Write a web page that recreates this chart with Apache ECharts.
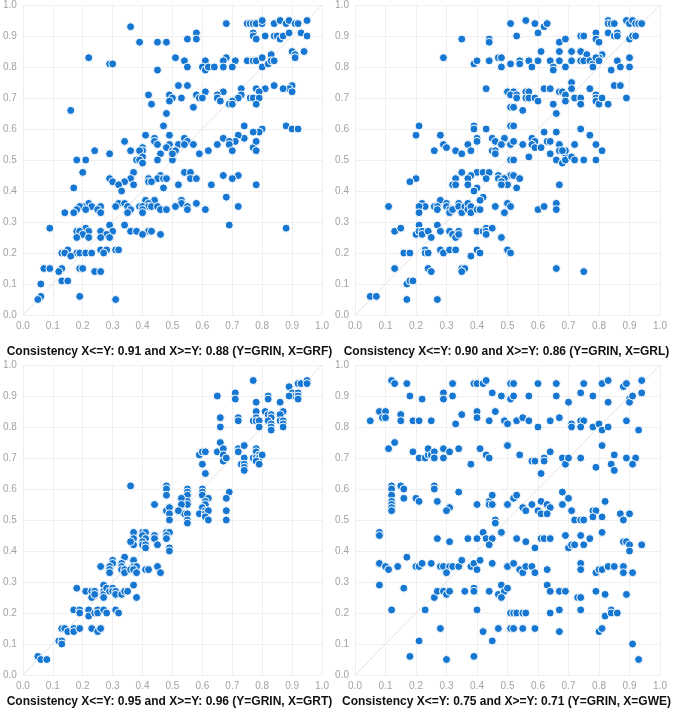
<!DOCTYPE html>
<html>
<head>
<meta charset="utf-8">
<script src="https://cdn.jsdelivr.net/npm/echarts@6/dist/echarts.min.js"></script>
<style>
  html, body { margin: 0; padding: 0; background: #fff; }
  #chart { width: 674px; height: 708px; }
</style>
</head>
<body>
<div id="chart"></div>
<script>
// x = condition set membership, y = GRIN membership
const grfPoints = [
  [0.36,0.93],[0.39,0.88],[0.45,0.88],[0.48,0.88],[0.22,0.83],[0.51,0.83],[0.29,0.81],[0.30,0.81],[0.45,0.79],[0.52,0.74],
  [0.42,0.71],[0.49,0.71],[0.50,0.70],[0.53,0.70],[0.49,0.69],[0.43,0.68],[0.16,0.66],[0.48,0.65],[0.47,0.61],[0.41,0.58],
  [0.49,0.58],[0.44,0.57],[0.44,0.56],[0.34,0.56],[0.45,0.55],[0.49,0.55],[0.52,0.55],[0.48,0.54],[0.40,0.54],[0.40,0.53],
  [0.36,0.53],[0.39,0.53],[0.24,0.53],[0.50,0.53],[0.51,0.53],[0.46,0.52],[0.29,0.52],[0.40,0.51],[0.50,0.51],[0.18,0.50],
  [0.21,0.50],[0.38,0.50],[0.39,0.50],[0.45,0.50],[0.50,0.50],[0.40,0.49],[0.20,0.46],[0.37,0.46],[0.46,0.45],[0.29,0.44],
  [0.30,0.43],[0.42,0.44],[0.42,0.43],[0.45,0.44],[0.47,0.44],[0.48,0.44],[0.36,0.44],[0.34,0.43],[0.43,0.43],[0.32,0.42],
  [0.37,0.42],[0.52,0.42],[0.47,0.41],[0.17,0.41],[0.33,0.40],[0.41,0.37],[0.44,0.37],[0.42,0.36],[0.53,0.37],[0.53,0.36],
  [0.22,0.36],[0.20,0.35],[0.32,0.36],[0.34,0.36],[0.51,0.35],[0.31,0.35],[0.35,0.35],[0.39,0.35],[0.40,0.35],[0.42,0.35],
  [0.43,0.35],[0.45,0.35],[0.26,0.35],[0.23,0.35],[0.19,0.35],[0.18,0.34],[0.17,0.33],[0.25,0.34],[0.26,0.33],[0.36,0.34],
  [0.35,0.33],[0.40,0.34],[0.40,0.33],[0.46,0.34],[0.48,0.34],[0.21,0.34],[0.14,0.33],[0.29,0.29],[0.34,0.29],[0.09,0.28],
  [0.21,0.28],[0.22,0.27],[0.18,0.27],[0.19,0.27],[0.26,0.27],[0.30,0.27],[0.36,0.27],[0.38,0.27],[0.42,0.27],[0.43,0.27],
  [0.28,0.26],[0.40,0.26],[0.46,0.26],[0.20,0.26],[0.18,0.25],[0.22,0.25],[0.26,0.25],[0.29,0.25],[0.26,0.21],[0.28,0.21],
  [0.31,0.21],[0.32,0.21],[0.15,0.21],[0.13,0.20],[0.14,0.20],[0.18,0.20],[0.19,0.20],[0.21,0.20],[0.23,0.20],[0.27,0.20],
  [0.16,0.19],[0.07,0.15],[0.09,0.15],[0.13,0.15],[0.19,0.15],[0.20,0.15],[0.12,0.14],[0.24,0.14],[0.26,0.14],[0.13,0.11],
  [0.15,0.11],[0.06,0.10],[0.06,0.06],[0.19,0.06],[0.05,0.05],[0.31,0.05],
  [0.68,0.94],[0.75,0.94],[0.76,0.94],[0.77,0.94],[0.78,0.94],[0.80,0.94],[0.80,0.95],[0.84,0.94],[0.86,0.95],[0.88,0.94],
  [0.89,0.95],[0.91,0.94],[0.92,0.94],[0.95,0.95],[0.58,0.91],[0.58,0.89],[0.55,0.89],[0.77,0.91],[0.77,0.90],[0.78,0.89],
  [0.81,0.90],[0.84,0.90],[0.85,0.90],[0.86,0.89],[0.87,0.90],[0.89,0.91],[0.93,0.91],[0.95,0.90],[0.90,0.85],[0.91,0.84],
  [0.94,0.85],[0.91,0.83],[0.83,0.84],[0.54,0.82],[0.55,0.80],[0.68,0.83],[0.67,0.82],[0.67,0.80],[0.71,0.82],[0.70,0.80],
  [0.61,0.82],[0.60,0.80],[0.61,0.79],[0.62,0.80],[0.64,0.80],[0.75,0.82],[0.77,0.82],[0.78,0.82],[0.80,0.83],[0.80,0.80],
  [0.82,0.81],[0.83,0.82],[0.84,0.82],[0.90,0.74],[0.89,0.73],[0.90,0.72],[0.84,0.74],[0.87,0.73],[0.81,0.73],[0.78,0.73],
  [0.79,0.72],[0.78,0.70],[0.76,0.70],[0.77,0.70],[0.79,0.70],[0.78,0.68],[0.73,0.73],[0.73,0.71],[0.72,0.70],[0.67,0.72],
  [0.65,0.71],[0.65,0.70],[0.66,0.69],[0.61,0.72],[0.58,0.71],[0.59,0.70],[0.60,0.70],[0.55,0.74],[0.57,0.67],[0.70,0.69],
  [0.69,0.68],[0.70,0.68],[0.74,0.61],[0.88,0.61],[0.90,0.60],[0.92,0.60],[0.80,0.60],[0.79,0.59],[0.77,0.59],[0.74,0.57],
  [0.72,0.58],[0.71,0.56],[0.67,0.57],[0.69,0.56],[0.69,0.55],[0.65,0.55],[0.77,0.54],[0.78,0.56],[0.78,0.53],[0.70,0.53],
  [0.62,0.53],[0.59,0.52],[0.54,0.57],[0.55,0.56],[0.54,0.55],[0.57,0.55],[0.51,0.53],[0.50,0.52],[0.54,0.46],[0.56,0.46],
  [0.56,0.44],[0.58,0.44],[0.67,0.45],[0.72,0.45],[0.70,0.44],[0.63,0.42],[0.78,0.42],[0.68,0.38],[0.55,0.35],[0.55,0.34],
  [0.58,0.36],[0.61,0.34],[0.72,0.35],[0.69,0.29],[0.88,0.28]
];

const grlPoints = [
  [0.35,0.89],[0.44,0.89],[0.44,0.88],[0.29,0.83],[0.47,0.83],[0.39,0.81],[0.40,0.82],[0.44,0.82],[0.48,0.80],[0.51,0.81],
  [0.51,0.94],[0.43,0.73],[0.50,0.72],[0.51,0.71],[0.51,0.67],[0.21,0.61],[0.20,0.58],[0.39,0.61],[0.39,0.60],[0.43,0.60],
  [0.51,0.61],[0.28,0.58],[0.29,0.55],[0.30,0.54],[0.37,0.55],[0.40,0.57],[0.40,0.56],[0.45,0.57],[0.46,0.56],[0.48,0.55],
  [0.49,0.57],[0.51,0.55],[0.26,0.53],[0.33,0.53],[0.38,0.53],[0.45,0.53],[0.46,0.53],[0.46,0.52],[0.35,0.52],[0.51,0.50],
  [0.35,0.46],[0.40,0.46],[0.42,0.46],[0.44,0.46],[0.38,0.45],[0.47,0.45],[0.51,0.45],[0.33,0.44],[0.37,0.44],[0.43,0.44],
  [0.47,0.44],[0.49,0.44],[0.48,0.43],[0.32,0.42],[0.33,0.42],[0.37,0.42],[0.48,0.42],[0.50,0.42],[0.20,0.44],[0.18,0.43],
  [0.40,0.41],[0.39,0.40],[0.42,0.38],[0.41,0.37],[0.28,0.37],[0.22,0.36],[0.23,0.35],[0.21,0.35],[0.21,0.33],[0.11,0.35],
  [0.26,0.35],[0.27,0.35],[0.27,0.34],[0.30,0.36],[0.30,0.35],[0.31,0.34],[0.31,0.33],[0.32,0.34],[0.34,0.36],[0.34,0.35],
  [0.35,0.33],[0.36,0.35],[0.37,0.36],[0.37,0.34],[0.38,0.35],[0.38,0.33],[0.40,0.34],[0.41,0.34],[0.46,0.35],[0.49,0.33],
  [0.50,0.36],[0.51,0.35],[0.13,0.27],[0.15,0.28],[0.20,0.26],[0.21,0.29],[0.21,0.27],[0.22,0.27],[0.22,0.26],[0.24,0.27],
  [0.25,0.25],[0.27,0.29],[0.28,0.27],[0.31,0.27],[0.32,0.26],[0.33,0.25],[0.34,0.27],[0.34,0.26],[0.40,0.27],[0.42,0.27],
  [0.43,0.28],[0.43,0.27],[0.43,0.26],[0.45,0.28],[0.48,0.25],[0.16,0.20],[0.18,0.20],[0.23,0.21],[0.23,0.20],[0.24,0.20],
  [0.28,0.21],[0.29,0.20],[0.31,0.21],[0.33,0.21],[0.38,0.19],[0.40,0.21],[0.41,0.20],[0.50,0.21],[0.51,0.20],[0.13,0.15],
  [0.24,0.15],[0.25,0.14],[0.35,0.15],[0.36,0.15],[0.35,0.14],[0.17,0.10],[0.18,0.11],[0.19,0.11],[0.05,0.06],[0.07,0.06],
  [0.17,0.05],[0.27,0.05],
  [0.56,0.95],[0.59,0.94],[0.60,0.91],[0.62,0.93],[0.63,0.94],[0.53,0.90],[0.67,0.88],[0.69,0.89],[0.74,0.90],[0.75,0.90],
  [0.79,0.91],[0.79,0.89],[0.80,0.88],[0.83,0.91],[0.85,0.90],[0.86,0.91],[0.86,0.90],[0.83,0.95],[0.83,0.94],[0.84,0.94],
  [0.85,0.94],[0.89,0.95],[0.90,0.94],[0.91,0.95],[0.92,0.94],[0.93,0.94],[0.94,0.94],[0.90,0.89],[0.91,0.90],[0.92,0.90],
  [0.61,0.85],[0.67,0.85],[0.71,0.85],[0.74,0.85],[0.76,0.84],[0.81,0.84],[0.80,0.83],[0.48,0.83],[0.48,0.80],[0.54,0.82],
  [0.54,0.81],[0.57,0.82],[0.58,0.80],[0.60,0.82],[0.64,0.82],[0.65,0.80],[0.65,0.79],[0.67,0.82],[0.71,0.82],[0.69,0.80],
  [0.74,0.82],[0.75,0.82],[0.77,0.82],[0.78,0.81],[0.78,0.80],[0.79,0.83],[0.80,0.82],[0.86,0.82],[0.84,0.79],[0.87,0.80],
  [0.90,0.83],[0.90,0.80],[0.71,0.75],[0.62,0.73],[0.64,0.73],[0.71,0.73],[0.77,0.73],[0.85,0.74],[0.87,0.74],[0.50,0.72],
  [0.52,0.72],[0.51,0.71],[0.53,0.71],[0.53,0.70],[0.56,0.72],[0.57,0.72],[0.56,0.70],[0.57,0.70],[0.59,0.70],[0.60,0.69],
  [0.67,0.72],[0.68,0.72],[0.69,0.71],[0.69,0.69],[0.72,0.70],[0.74,0.70],[0.74,0.68],[0.65,0.68],[0.79,0.71],[0.79,0.70],
  [0.79,0.69],[0.80,0.68],[0.81,0.70],[0.83,0.68],[0.89,0.70],[0.52,0.67],[0.55,0.66],[0.66,0.65],[0.52,0.61],[0.62,0.59],
  [0.66,0.59],[0.74,0.60],[0.77,0.58],[0.49,0.57],[0.58,0.57],[0.59,0.56],[0.58,0.55],[0.59,0.54],[0.63,0.56],[0.64,0.56],
  [0.61,0.54],[0.51,0.55],[0.52,0.56],[0.55,0.55],[0.48,0.55],[0.67,0.55],[0.67,0.53],[0.69,0.52],[0.69,0.53],[0.68,0.53],
  [0.64,0.52],[0.72,0.55],[0.79,0.55],[0.81,0.53],[0.57,0.51],[0.52,0.50],[0.66,0.50],[0.68,0.49],[0.69,0.50],[0.71,0.51],
  [0.72,0.50],[0.75,0.50],[0.79,0.50],[0.49,0.44],[0.48,0.43],[0.50,0.42],[0.48,0.42],[0.52,0.45],[0.54,0.44],[0.53,0.41],
  [0.67,0.42],[0.50,0.36],[0.51,0.35],[0.49,0.33],[0.60,0.34],[0.62,0.35],[0.66,0.36],[0.66,0.34],[0.48,0.25],[0.50,0.21],
  [0.51,0.20],[0.66,0.15],[0.75,0.14]
];

const grtPoints = [
  [0.36,0.61],[0.48,0.61],[0.48,0.60],[0.48,0.58],[0.44,0.55],[0.52,0.53],[0.48,0.53],[0.49,0.54],[0.49,0.52],[0.49,0.50],
  [0.53,0.57],[0.53,0.55],[0.48,0.46],[0.49,0.46],[0.48,0.45],[0.48,0.44],[0.44,0.45],[0.44,0.44],[0.45,0.42],[0.49,0.41],
  [0.49,0.40],[0.37,0.46],[0.37,0.44],[0.37,0.42],[0.36,0.43],[0.40,0.46],[0.41,0.46],[0.40,0.45],[0.41,0.44],[0.40,0.43],
  [0.40,0.42],[0.41,0.42],[0.41,0.41],[0.34,0.38],[0.30,0.37],[0.30,0.36],[0.29,0.35],[0.29,0.34],[0.29,0.33],[0.26,0.35],
  [0.33,0.36],[0.33,0.35],[0.33,0.34],[0.34,0.34],[0.34,0.33],[0.37,0.37],[0.37,0.35],[0.38,0.35],[0.36,0.34],[0.37,0.34],
  [0.38,0.33],[0.41,0.34],[0.42,0.34],[0.45,0.35],[0.46,0.33],[0.18,0.28],[0.21,0.27],[0.23,0.27],[0.24,0.27],[0.23,0.25],
  [0.24,0.26],[0.27,0.29],[0.27,0.27],[0.27,0.26],[0.27,0.25],[0.28,0.28],[0.29,0.27],[0.30,0.28],[0.30,0.27],[0.31,0.27],
  [0.31,0.26],[0.33,0.26],[0.34,0.27],[0.35,0.27],[0.37,0.29],[0.38,0.25],[0.17,0.21],[0.19,0.21],[0.19,0.20],[0.22,0.21],
  [0.22,0.19],[0.24,0.20],[0.25,0.21],[0.25,0.20],[0.27,0.21],[0.28,0.20],[0.31,0.21],[0.32,0.20],[0.13,0.15],[0.14,0.15],
  [0.15,0.14],[0.17,0.15],[0.17,0.14],[0.19,0.15],[0.23,0.15],[0.25,0.14],[0.26,0.15],[0.12,0.11],[0.13,0.11],[0.13,0.10],
  [0.05,0.06],[0.06,0.05],[0.08,0.05],
  [0.77,0.95],[0.89,0.93],[0.92,0.94],[0.93,0.94],[0.95,0.95],[0.95,0.94],[0.90,0.91],[0.90,0.90],[0.92,0.91],[0.92,0.90],
  [0.92,0.89],[0.89,0.90],[0.65,0.90],[0.71,0.91],[0.71,0.89],[0.78,0.88],[0.82,0.90],[0.82,0.89],[0.86,0.88],[0.78,0.85],
  [0.81,0.85],[0.82,0.84],[0.83,0.84],[0.83,0.83],[0.87,0.85],[0.86,0.84],[0.86,0.82],[0.87,0.82],[0.87,0.81],[0.87,0.80],
  [0.77,0.82],[0.78,0.83],[0.78,0.82],[0.79,0.82],[0.79,0.80],[0.82,0.82],[0.83,0.81],[0.83,0.80],[0.83,0.79],[0.72,0.83],
  [0.72,0.82],[0.66,0.83],[0.66,0.80],[0.66,0.75],[0.65,0.72],[0.67,0.73],[0.67,0.71],[0.67,0.69],[0.68,0.70],[0.59,0.71],
  [0.60,0.72],[0.61,0.72],[0.60,0.68],[0.61,0.65],[0.72,0.73],[0.72,0.72],[0.74,0.74],[0.74,0.70],[0.73,0.68],[0.74,0.68],
  [0.74,0.67],[0.74,0.66],[0.78,0.73],[0.78,0.72],[0.79,0.71],[0.77,0.70],[0.78,0.70],[0.79,0.70],[0.80,0.71],[0.78,0.69],
  [0.79,0.68],[0.55,0.60],[0.55,0.59],[0.55,0.58],[0.55,0.56],[0.55,0.55],[0.54,0.52],[0.55,0.52],[0.55,0.50],[0.55,0.49],
  [0.53,0.57],[0.53,0.55],[0.52,0.53],[0.60,0.60],[0.60,0.59],[0.60,0.58],[0.62,0.57],[0.61,0.56],[0.61,0.55],[0.60,0.54],
  [0.61,0.53],[0.59,0.52],[0.61,0.52],[0.62,0.53],[0.61,0.51],[0.62,0.50],[0.69,0.59],[0.68,0.57],[0.68,0.53],[0.68,0.50]
];

const gwePoints = [
  [0.12,0.95],[0.13,0.94],[0.17,0.94],[0.18,0.90],[0.22,0.89],[0.29,0.91],[0.29,0.89],[0.32,0.94],[0.32,0.90],[0.39,0.94],
  [0.40,0.94],[0.42,0.94],[0.43,0.95],[0.45,0.91],[0.48,0.90],[0.51,0.89],[0.51,0.94],[0.08,0.85],[0.10,0.85],[0.09,0.83],
  [0.10,0.83],[0.05,0.82],[0.15,0.84],[0.15,0.82],[0.19,0.82],[0.21,0.82],[0.25,0.82],[0.33,0.81],[0.35,0.84],[0.40,0.85],
  [0.40,0.83],[0.44,0.82],[0.46,0.85],[0.49,0.82],[0.50,0.81],[0.13,0.75],[0.11,0.73],[0.19,0.72],[0.21,0.70],[0.23,0.70],
  [0.24,0.71],[0.24,0.73],[0.25,0.71],[0.26,0.72],[0.26,0.70],[0.29,0.73],[0.29,0.70],[0.31,0.72],[0.34,0.73],[0.38,0.68],
  [0.41,0.73],[0.43,0.71],[0.44,0.70],[0.50,0.74],[0.12,0.61],[0.12,0.60],[0.12,0.58],[0.12,0.56],[0.12,0.55],[0.12,0.54],
  [0.12,0.53],[0.15,0.61],[0.16,0.60],[0.16,0.57],[0.20,0.57],[0.21,0.56],[0.26,0.61],[0.26,0.60],[0.27,0.56],[0.31,0.54],
  [0.30,0.53],[0.34,0.59],[0.40,0.55],[0.44,0.56],[0.44,0.55],[0.45,0.55],[0.45,0.58],[0.50,0.55],[0.08,0.46],[0.08,0.45],
  [0.27,0.44],[0.31,0.43],[0.37,0.44],[0.40,0.44],[0.42,0.46],[0.43,0.44],[0.45,0.44],[0.44,0.42],[0.46,0.50],[0.46,0.49],
  [0.48,0.46],[0.08,0.36],[0.10,0.35],[0.11,0.34],[0.14,0.35],[0.17,0.38],[0.20,0.35],[0.21,0.35],[0.22,0.36],[0.25,0.36],
  [0.28,0.35],[0.29,0.35],[0.31,0.35],[0.32,0.35],[0.34,0.35],[0.30,0.33],[0.35,0.37],[0.38,0.35],[0.39,0.36],[0.40,0.34],
  [0.41,0.37],[0.45,0.36],[0.50,0.35],[0.08,0.29],[0.16,0.28],[0.26,0.25],[0.27,0.27],[0.29,0.27],[0.30,0.26],[0.31,0.27],
  [0.36,0.27],[0.39,0.28],[0.39,0.27],[0.44,0.27],[0.48,0.29],[0.47,0.26],[0.48,0.25],[0.49,0.27],[0.50,0.28],[0.12,0.21],
  [0.23,0.21],[0.40,0.21],[0.51,0.20],[0.28,0.15],[0.47,0.15],[0.51,0.15],[0.42,0.14],[0.21,0.11],[0.45,0.11],[0.18,0.06],
  [0.39,0.06],[0.30,0.05],
  [0.52,0.94],[0.60,0.94],[0.66,0.94],[0.75,0.94],[0.81,0.94],[0.83,0.95],[0.88,0.93],[0.89,0.94],[0.94,0.95],[0.48,0.90],
  [0.51,0.89],[0.52,0.90],[0.57,0.90],[0.66,0.90],[0.70,0.88],[0.74,0.91],[0.78,0.90],[0.83,0.88],[0.90,0.89],[0.90,0.88],
  [0.91,0.90],[0.94,0.91],[0.49,0.82],[0.50,0.81],[0.53,0.82],[0.55,0.83],[0.57,0.82],[0.60,0.80],[0.64,0.82],[0.67,0.83],
  [0.71,0.81],[0.71,0.80],[0.74,0.82],[0.75,0.82],[0.74,0.80],[0.78,0.80],[0.80,0.81],[0.81,0.79],[0.83,0.80],[0.89,0.82],
  [0.93,0.79],[0.50,0.74],[0.81,0.74],[0.54,0.71],[0.58,0.69],[0.59,0.69],[0.62,0.70],[0.62,0.69],[0.64,0.72],[0.61,0.65],
  [0.68,0.70],[0.69,0.68],[0.70,0.70],[0.74,0.70],[0.79,0.67],[0.85,0.71],[0.84,0.68],[0.85,0.66],[0.89,0.70],[0.92,0.70],
  [0.91,0.68],[0.52,0.57],[0.53,0.58],[0.50,0.55],[0.55,0.54],[0.56,0.53],[0.58,0.55],[0.60,0.53],[0.61,0.52],[0.61,0.56],
  [0.63,0.55],[0.64,0.54],[0.63,0.52],[0.68,0.59],[0.68,0.55],[0.70,0.57],[0.71,0.53],[0.72,0.50],[0.74,0.50],[0.75,0.50],
  [0.78,0.53],[0.79,0.53],[0.78,0.51],[0.81,0.51],[0.82,0.56],[0.87,0.52],[0.88,0.50],[0.90,0.52],[0.48,0.46],[0.53,0.44],
  [0.56,0.43],[0.59,0.41],[0.61,0.44],[0.62,0.44],[0.64,0.44],[0.69,0.45],[0.70,0.41],[0.71,0.42],[0.72,0.42],[0.74,0.45],
  [0.75,0.42],[0.77,0.44],[0.81,0.46],[0.88,0.43],[0.89,0.43],[0.90,0.42],[0.90,0.40],[0.94,0.42],[0.50,0.35],[0.52,0.36],
  [0.54,0.34],[0.55,0.33],[0.56,0.35],[0.58,0.35],[0.59,0.33],[0.63,0.34],[0.74,0.36],[0.74,0.34],[0.79,0.33],[0.80,0.34],
  [0.81,0.34],[0.83,0.35],[0.85,0.35],[0.88,0.35],[0.88,0.33],[0.91,0.33],[0.48,0.29],[0.49,0.27],[0.50,0.28],[0.48,0.25],
  [0.63,0.29],[0.64,0.27],[0.67,0.27],[0.69,0.27],[0.73,0.25],[0.74,0.25],[0.79,0.27],[0.82,0.26],[0.89,0.26],[0.52,0.20],
  [0.53,0.20],[0.55,0.20],[0.56,0.20],[0.64,0.20],[0.67,0.21],[0.74,0.21],[0.82,0.19],[0.84,0.21],[0.84,0.20],[0.86,0.20],
  [0.52,0.15],[0.55,0.15],[0.59,0.15],[0.67,0.14],[0.80,0.14],[0.81,0.15],[0.91,0.10],[0.93,0.05]
];

const panelTitles = [
  'Consistency X<=Y: 0.91 and X>=Y: 0.88 (Y=GRIN, X=GRF)',
  'Consistency X<=Y: 0.90 and X>=Y: 0.86 (Y=GRIN, X=GRL)',
  'Consistency X<=Y: 0.95 and X>=Y: 0.96 (Y=GRIN, X=GRT)',
  'Consistency X<=Y: 0.75 and X>=Y: 0.71 (Y=GRIN, X=GWE)'
];
const panelData = [grfPoints, grlPoints, grtPoints, gwePoints];
const diagonal = [[0, 0], [1, 1]];

const boxes = [
  { left: 19, top: 5, width: 303, height: 310 },
  { left: 355, top: 5, width: 305, height: 310 },
  { left: 19, top: 365, width: 303, height: 310 },
  { left: 355, top: 365, width: 305, height: 310 }
];
const titleTops = [341, 341, 691, 691];

const axisBase = {
  type: 'value',
  min: 0,
  max: 1,
  interval: 0.1,
  axisLine: { show: false },
  axisTick: { show: false },
  splitLine: { lineStyle: { color: '#efefef', width: 1 } },
  axisLabel: {
    color: '#a3a3a3',
    fontSize: 10,
    margin: 6,
    fontFamily: 'Liberation Sans',
    formatter: v => v.toFixed(1)
  }
};

const grid = [], xAxis = [], yAxis = [], series = [], title = [];
boxes.forEach((b, i) => {
  grid.push(b);
  xAxis.push(Object.assign({}, axisBase, { gridIndex: i }));
  yAxis.push(Object.assign({}, axisBase, { gridIndex: i }));
  series.push({
    type: 'line',
    xAxisIndex: i,
    yAxisIndex: i,
    data: diagonal,
    symbol: 'none',
    silent: true,
    lineStyle: { color: '#e4e4e4', width: 1 },
    z: 1
  });
  series.push({
    type: 'scatter',
    xAxisIndex: i,
    yAxisIndex: i,
    data: panelData[i],
    symbolSize: 8,
    itemStyle: { color: '#1677d2', borderColor: '#fff', borderWidth: 1, opacity: 1 },
    z: 2
  });
  title.push({
    text: panelTitles[i],
    left: b.left + b.width / 2 - 6,
    top: titleTops[i],
    textAlign: 'center',
    textStyle: { fontSize: 12, fontWeight: 'bold', color: '#111', fontFamily: 'Liberation Sans' }
  });
});

const myChart = echarts.init(document.getElementById('chart'));
myChart.setOption({
  animation: false,
  backgroundColor: '#fff',
  title: title,
  grid: grid,
  xAxis: xAxis,
  yAxis: yAxis,
  series: series
});
</script>
</body>
</html>
